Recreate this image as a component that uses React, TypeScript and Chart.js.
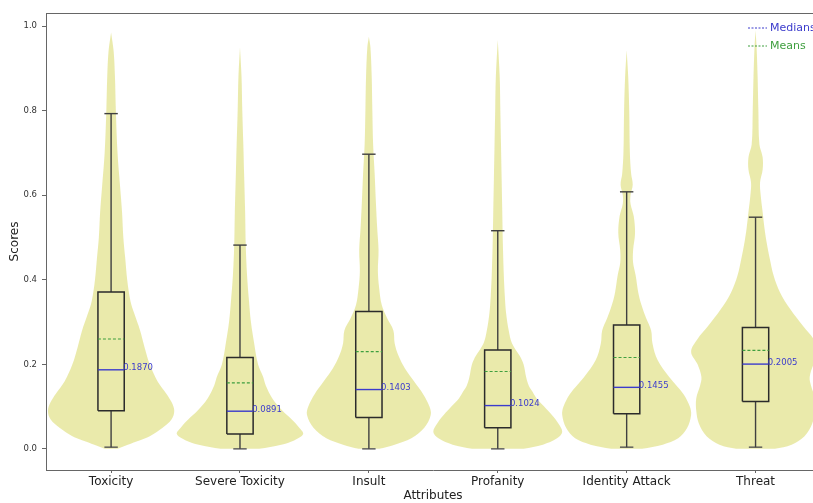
import React, { useEffect, useRef } from "react";
import { Chart, registerables } from "chart.js";

Chart.register(...registerables);

// ---------- data ----------
const categories = ["Toxicity", "Severe Toxicity", "Insult", "Profanity", "Identity Attack", "Threat"];
const medians = [0.187, 0.0891, 0.1403, 0.1024, 0.1455, 0.2005];
const medianLabels = ["0.1870", "0.0891", "0.1403", "0.1024", "0.1455", "0.2005"];
const means = [0.26, 0.156, 0.23, 0.183, 0.216, 0.233];
const q1 = [0.09, 0.035, 0.074, 0.05, 0.083, 0.112];
const q3 = [0.371, 0.216, 0.325, 0.234, 0.293, 0.287];
const whiskerLow = [0.004, 0.0, 0.0, 0.0, 0.004, 0.004];
const whiskerHigh = [0.793, 0.482, 0.697, 0.516, 0.608, 0.548];
const yTicks = [0, 0.2, 0.4, 0.6, 0.8, 1.0];

// violin outlines: [score, half width in category units]
const toxicityViolin = [
  [0.0, 0.05], [0.01, 0.13], [0.02, 0.22], [0.03, 0.3], [0.05, 0.4], [0.07, 0.47], [0.09, 0.49],
  [0.11, 0.47], [0.13, 0.43], [0.16, 0.36], [0.2, 0.3], [0.24, 0.26], [0.28, 0.225], [0.32, 0.18],
  [0.35, 0.15], [0.4, 0.125], [0.45, 0.11], [0.5, 0.095], [0.56, 0.085], [0.62, 0.07], [0.7, 0.05],
  [0.8, 0.037], [0.88, 0.03], [0.94, 0.02], [0.985, 0],
];
const severeToxicityViolin = [
  [0.0, 0.15], [0.01, 0.32], [0.02, 0.42], [0.035, 0.49], [0.05, 0.46], [0.07, 0.4], [0.09, 0.33],
  [0.12, 0.25], [0.15, 0.2], [0.17, 0.18], [0.2, 0.14], [0.25, 0.11], [0.3, 0.085], [0.35, 0.07],
  [0.41, 0.055], [0.48, 0.045], [0.56, 0.04], [0.65, 0.032], [0.72, 0.026], [0.8, 0.018],
  [0.88, 0.012], [0.95, 0],
];
const insultViolin = [
  [0.0, 0.08], [0.01, 0.2], [0.025, 0.33], [0.05, 0.43], [0.08, 0.48], [0.1, 0.47], [0.13, 0.42],
  [0.16, 0.35], [0.19, 0.28], [0.22, 0.23], [0.25, 0.2], [0.28, 0.19], [0.31, 0.14], [0.34, 0.1],
  [0.38, 0.08], [0.42, 0.07], [0.47, 0.075], [0.52, 0.065], [0.58, 0.055], [0.65, 0.045],
  [0.72, 0.033], [0.8, 0.027], [0.88, 0.022], [0.95, 0.012], [0.975, 0],
];
const profanityViolin = [
  [0.0, 0.2], [0.01, 0.35], [0.025, 0.46], [0.04, 0.5], [0.06, 0.47], [0.08, 0.42], [0.1, 0.36],
  [0.12, 0.3], [0.135, 0.27], [0.15, 0.24], [0.17, 0.22], [0.2, 0.2], [0.22, 0.17], [0.25, 0.11],
  [0.28, 0.085], [0.32, 0.065], [0.36, 0.055], [0.41, 0.047], [0.48, 0.04], [0.56, 0.035],
  [0.64, 0.03], [0.72, 0.025], [0.8, 0.02], [0.88, 0.015], [0.967, 0],
];
const identityAttackViolin = [
  [0.0, 0.12], [0.01, 0.28], [0.025, 0.4], [0.05, 0.47], [0.08, 0.5], [0.1, 0.49], [0.13, 0.44],
  [0.17, 0.33], [0.21, 0.24], [0.25, 0.2], [0.28, 0.19], [0.31, 0.15], [0.34, 0.115], [0.37, 0.09],
  [0.41, 0.07], [0.44, 0.05], [0.47, 0.05], [0.51, 0.065], [0.55, 0.055], [0.58, 0.03], [0.6, 0.03],
  [0.625, 0.047], [0.65, 0.035], [0.7, 0.025], [0.8, 0.02], [0.88, 0.012], [0.943, 0],
];
const threatViolin = [
  [0.0, 0.15], [0.01, 0.28], [0.03, 0.38], [0.06, 0.44], [0.09, 0.46], [0.12, 0.46], [0.15, 0.43],
  [0.17, 0.42], [0.2, 0.45], [0.23, 0.5], [0.26, 0.45], [0.29, 0.37], [0.33, 0.27], [0.37, 0.19],
  [0.41, 0.14], [0.45, 0.11], [0.49, 0.085], [0.52, 0.07], [0.56, 0.055], [0.6, 0.04],
  [0.63, 0.035], [0.66, 0.055], [0.69, 0.055], [0.72, 0.03], [0.8, 0.022], [0.88, 0.016], [0.95, 0.008], [0.99, 0],
];
const violins = [toxicityViolin, severeToxicityViolin, insultViolin, profanityViolin, identityAttackViolin, threatViolin];

// ---------- styling ----------
const BOX_HALF = 0.102;
const CAP_HALF = 0.052;
const VIOLIN_FILL = "rgba(191,191,0,0.33)";
const BOX_COLOR = "#2b2b2b";
const MEDIAN_COLOR = "#3b3bcc";
const MEAN_COLOR = "#3f9f3f";
const AXIS_COLOR = "#666666";
const FONT = "'DejaVu Sans', sans-serif";

function seg(points: { x: number; y: number }[], color: string, width: number, order: number, dash: number[] = []) {
  return {
    data: points,
    showLine: true,
    fill: false,
    borderColor: color,
    borderWidth: width,
    borderDash: dash,
    pointRadius: 0,
    pointHoverRadius: 0,
    tension: 0,
    order,
  };
}

function buildDatasets() {
  const ds: any[] = [];
  categories.forEach((_, i) => {
    const c = i + 1;
    const prof = violins[i];
    const right = prof.map(([v, w]) => ({ x: c + w, y: v }));
    const left = prof.slice().reverse().map(([v, w]) => ({ x: c - w, y: v }));
    ds.push({
      data: [...right, ...left],
      showLine: true,
      fill: "shape",
      backgroundColor: VIOLIN_FILL,
      borderWidth: 0,
      borderColor: "rgba(0,0,0,0)",
      pointRadius: 0,
      pointHoverRadius: 0,
      tension: 0.35,
      order: 3,
    });
    // box
    ds.push(
      seg(
        [
          { x: c - BOX_HALF, y: q1[i] },
          { x: c + BOX_HALF, y: q1[i] },
          { x: c + BOX_HALF, y: q3[i] },
          { x: c - BOX_HALF, y: q3[i] },
          { x: c - BOX_HALF, y: q1[i] },
        ],
        BOX_COLOR, 1.5, 2
      )
    );
    // whiskers
    ds.push(seg([{ x: c, y: q3[i] }, { x: c, y: whiskerHigh[i] }], "#404040", 1.4, 2));
    ds.push(seg([{ x: c, y: q1[i] }, { x: c, y: whiskerLow[i] }], "#404040", 1.4, 2));
    ds.push(seg([{ x: c - CAP_HALF, y: whiskerHigh[i] }, { x: c + CAP_HALF, y: whiskerHigh[i] }], "#404040", 1.4, 2));
    ds.push(seg([{ x: c - CAP_HALF, y: whiskerLow[i] }, { x: c + CAP_HALF, y: whiskerLow[i] }], "#555", 1.4, 2));
    // median & mean
    ds.push(seg([{ x: c - BOX_HALF, y: medians[i] }, { x: c + BOX_HALF, y: medians[i] }], MEDIAN_COLOR, 1.4, 1));
    ds.push(seg([{ x: c - BOX_HALF, y: means[i] }, { x: c + BOX_HALF, y: means[i] }], MEAN_COLOR, 1.1, 1, [3, 2]));
  });
  return ds;
}

const textPlugin = {
  id: "textPlugin",
  afterDraw(chart: any) {
    const { ctx, chartArea } = chart;
    const xs = chart.scales.x;
    const ys = chart.scales.y;
    ctx.save();
    // top frame line
    ctx.strokeStyle = AXIS_COLOR;
    ctx.lineWidth = 1;
    ctx.beginPath();
    ctx.moveTo(chartArea.left, chartArea.top + 0.5);
    ctx.lineTo(chartArea.right, chartArea.top + 0.5);
    ctx.stroke();

    // y tick labels
    ctx.fillStyle = "#333";
    ctx.font = `8.5px ${FONT}`;
    ctx.textAlign = "right";
    ctx.textBaseline = "middle";
    yTicks.forEach((v) => ctx.fillText(v.toFixed(1), chartArea.left - 9, ys.getPixelForValue(v)));

    // x tick labels
    ctx.font = `12px ${FONT}`;
    ctx.textAlign = "center";
    ctx.textBaseline = "middle";
    ctx.fillStyle = "#222";
    categories.forEach((c, i) => ctx.fillText(c, xs.getPixelForValue(i + 1), chartArea.bottom + 12));

    // axis titles
    ctx.fillText("Attributes", (chartArea.left + chartArea.right) / 2, chartArea.bottom + 26);
    ctx.save();
    ctx.translate(15, (chartArea.top + chartArea.bottom) / 2);
    ctx.rotate(-Math.PI / 2);
    ctx.fillText("Scores", 0, 0);
    ctx.restore();

    // median labels
    ctx.font = `8.5px ${FONT}`;
    ctx.textAlign = "left";
    ctx.textBaseline = "alphabetic";
    ctx.fillStyle = MEDIAN_COLOR;
    medians.forEach((m, i) => {
      ctx.fillText(medianLabels[i], xs.getPixelForValue(i + 1 + BOX_HALF) - 1, ys.getPixelForValue(m) + 0.5);
    });

    // legend
    const lx = chartArea.right - 72;
    const ly1 = chartArea.top + 15;
    const ly2 = chartArea.top + 33;
    ctx.lineWidth = 1;
    ctx.setLineDash([2, 1.5]);
    ctx.strokeStyle = MEDIAN_COLOR;
    ctx.beginPath();
    ctx.moveTo(lx, ly1);
    ctx.lineTo(lx + 19, ly1);
    ctx.stroke();
    ctx.strokeStyle = MEAN_COLOR;
    ctx.beginPath();
    ctx.moveTo(lx, ly2);
    ctx.lineTo(lx + 19, ly2);
    ctx.stroke();
    ctx.setLineDash([]);
    ctx.font = `11px ${FONT}`;
    ctx.textBaseline = "middle";
    ctx.fillStyle = MEDIAN_COLOR;
    ctx.fillText("Medians", lx + 22, ly1);
    ctx.fillStyle = MEAN_COLOR;
    ctx.fillText("Means", lx + 22, ly2);
    ctx.restore();
  },
};

export default function App() {
  const ref = useRef<HTMLCanvasElement | null>(null);
  useEffect(() => {
    if (!ref.current) return;
    const chart = new Chart(ref.current, {
      type: "scatter",
      data: { datasets: buildDatasets() },
      options: {
        animation: false,
        responsive: false,
        events: [],
        layout: { padding: { top: 13, right: 10, left: 0, bottom: 0 } },
        plugins: { legend: { display: false }, tooltip: { enabled: false }, title: { display: false } },
        scales: {
          x: {
            type: "linear",
            min: 0.495,
            max: 6.5,
            afterFit: (s: any) => {
              s.height = 33;
            },
            afterBuildTicks: (s: any) => {
              s.ticks = categories.map((_, i) => ({ value: i + 1 }));
            },
            grid: { drawOnChartArea: false, drawTicks: true, tickLength: 3, color: AXIS_COLOR },
            border: { display: true, color: AXIS_COLOR, width: 1 },
            ticks: { display: false },
          },
          y: {
            type: "linear",
            min: -0.05,
            max: 1.031,
            afterFit: (s: any) => {
              s.width = 46;
            },
            afterBuildTicks: (s: any) => {
              s.ticks = yTicks.map((v) => ({ value: v }));
            },
            grid: { drawOnChartArea: false, drawTicks: true, tickLength: 4, color: AXIS_COLOR },
            border: { display: true, color: AXIS_COLOR, width: 1 },
            ticks: { display: false },
          },
        },
      } as any,
      plugins: [textPlugin],
    });
    return () => chart.destroy();
  }, []);
  return (
    <div style={{ position: "fixed", left: 0, top: 0, width: 813, height: 503, overflow: "hidden", background: "#fff" }}>
      <canvas ref={ref} width={830} height={503} style={{ display: "block" }} />
    </div>
  );
}
